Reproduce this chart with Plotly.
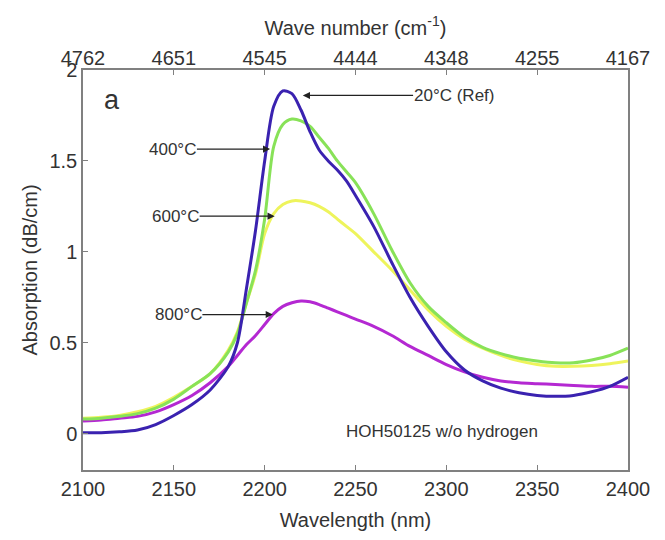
import plotly.graph_objects as go

wavelength = [2100, 2110, 2120, 2130, 2140, 2150, 2160, 2170, 2180, 2185, 2190, 2195,
              2200, 2205, 2210, 2215, 2220, 2225, 2230, 2235, 2240, 2245, 2250, 2260,
              2270, 2280, 2290, 2300, 2310, 2320, 2330, 2340, 2350, 2360, 2370, 2380,
              2390, 2400]

abs_20C = [0.005, 0.005, 0.01, 0.02, 0.05, 0.10, 0.16, 0.24, 0.37, 0.50, 0.80, 1.12,
           1.50, 1.80, 1.885, 1.87, 1.78, 1.66, 1.56, 1.50, 1.45, 1.39, 1.31, 1.14,
           0.94, 0.75, 0.59, 0.45, 0.35, 0.29, 0.25, 0.225, 0.21, 0.205, 0.21, 0.23,
           0.26, 0.31]

abs_400C = [0.08, 0.085, 0.095, 0.11, 0.14, 0.19, 0.26, 0.33, 0.45, 0.55, 0.72, 0.90,
            1.18, 1.58, 1.70, 1.73, 1.72, 1.69, 1.63, 1.57, 1.50, 1.44, 1.38, 1.21,
            1.01, 0.83, 0.70, 0.61, 0.53, 0.475, 0.44, 0.415, 0.40, 0.39, 0.39, 0.405,
            0.43, 0.47]

abs_600C = [0.085, 0.09, 0.10, 0.12, 0.15, 0.20, 0.26, 0.33, 0.46, 0.56, 0.72, 0.88,
            1.10, 1.21, 1.26, 1.28, 1.28, 1.27, 1.25, 1.22, 1.18, 1.14, 1.10, 1.00,
            0.90, 0.79, 0.68, 0.59, 0.52, 0.47, 0.43, 0.40, 0.38, 0.37, 0.37, 0.375,
            0.385, 0.40]

abs_800C = [0.07, 0.075, 0.085, 0.095, 0.12, 0.16, 0.21, 0.28, 0.37, 0.43, 0.49, 0.54,
            0.60, 0.66, 0.70, 0.72, 0.73, 0.725, 0.71, 0.69, 0.67, 0.65, 0.63, 0.59,
            0.54, 0.48, 0.43, 0.38, 0.34, 0.31, 0.29, 0.28, 0.275, 0.27, 0.265, 0.26,
            0.26, 0.255]

x_ticks = [2100, 2150, 2200, 2250, 2300, 2350, 2400]
wavenumber_labels = ["4762", "4651", "4545", "4444", "4348", "4255", "4167"]
y_ticks = [0, 0.5, 1, 1.5, 2]
y_tick_labels = ["0", "0.5", "1", "1.5", "2"]

series = [
    ("20°C (Ref)", abs_20C, "#3a22b0"),
    ("400°C", abs_400C, "#88e258"),
    ("600°C", abs_600C, "#eef45c"),
    ("800°C", abs_800C, "#b428d2"),
]

# annotation: label, arrow head (x, y), text centre (x, y)
labels = [
    ("20°C (Ref)", 2221, 1.86, 2304, 1.86),
    ("400°C", 2203, 1.565, 2149.5, 1.565),
    ("600°C", 2205.5, 1.196, 2151, 1.196),
    ("800°C", 2204.5, 0.655, 2152.5, 0.655),
]

FONT = "Liberation Sans, Arial, sans-serif"
TXT = "#333333"
AX = "#808080"

fig = go.Figure()
for name, vals, col in [series[3], series[2], series[1], series[0]]:
    fig.add_trace(go.Scatter(x=wavelength, y=vals, mode="lines", name=name,
                             line=dict(color=col, width=3, shape="spline", smoothing=0.8),
                             showlegend=False, hoverinfo="skip"))

# invisible trace for top axis
fig.add_trace(go.Scatter(x=[x_ticks[0], x_ticks[-1]], y=[0, 0], xaxis="x2", mode="markers",
                         marker=dict(opacity=0), showlegend=False, hoverinfo="skip"))

for text, hx, hy, tx, ty in labels:
    fig.add_annotation(x=hx, y=hy, ax=tx, ay=ty, xref="x", yref="y", axref="x", ayref="y",
                       text=text, showarrow=True, arrowhead=2, arrowsize=1.1, arrowwidth=1.3,
                       arrowcolor="#222222", font=dict(family=FONT, size=17, color=TXT),
                       borderpad=0, standoff=0)

fig.add_annotation(x=2297.5, y=0.01, xref="x", yref="y", text="HOH50125 w/o hydrogen",
                   showarrow=False, font=dict(family=FONT, size=17, color=TXT))
fig.add_annotation(x=0.035, y=0.925, xref="paper", yref="paper", text="a",
                   showarrow=False, xanchor="left", yanchor="middle",
                   font=dict(family=FONT, size=27, color=TXT))

axis_common = dict(showgrid=False, zeroline=False, ticks="inside", ticklen=5,
                   tickcolor=AX, tickwidth=1.2,
                   tickfont=dict(family=FONT, size=20, color=TXT))

fig.update_layout(
    width=665, height=540,
    margin=dict(l=83, r=37, t=70, b=67),
    paper_bgcolor="white", plot_bgcolor="white",
    xaxis=dict(range=[2100, 2400], tickvals=x_ticks, ticktext=[str(v) for v in x_ticks],
               showline=True, linecolor=AX, linewidth=1.5, mirror=True,
               title=dict(text="Wavelength (nm)", font=dict(family=FONT, size=20, color=TXT),
                          standoff=14),
               **axis_common),
    xaxis2=dict(range=[2100, 2400], overlaying="x", side="top", tickvals=x_ticks,
                ticktext=wavenumber_labels, showline=False,
                title=dict(text="Wave number (cm<sup>-1</sup>)",
                           font=dict(family=FONT, size=20, color=TXT), standoff=6),
                **axis_common),
    yaxis=dict(range=[-0.2, 2], tickvals=y_ticks, ticktext=y_tick_labels,
               showline=True, linecolor=AX, linewidth=1.5, mirror=True,
               title=dict(text="Absorption (dB/cm)", font=dict(family=FONT, size=20, color=TXT),
                          standoff=6),
               **axis_common),
)

fig.write_html("out.html")
